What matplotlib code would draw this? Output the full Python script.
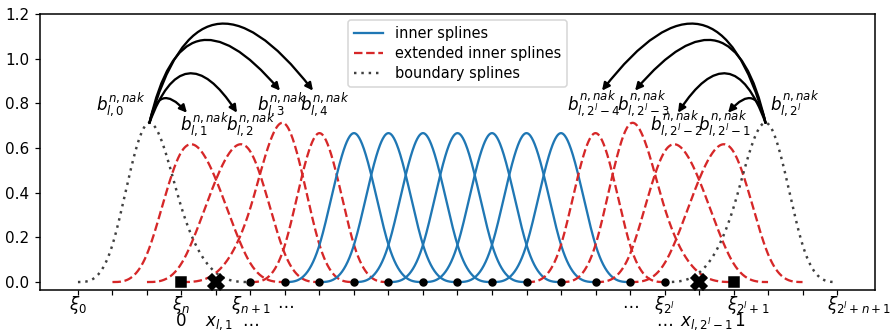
import numpy as np
import matplotlib
matplotlib.use("Agg")
import matplotlib.pyplot as plt
import matplotlib.transforms as mtransforms

# level l = 4, degree n = 3, grid width 2^-l
level = 4
degree = 3
grid_step = 1 / 2**level

# knot sequence in units of the grid step (not-a-knot: x_{l,1} and x_{l,2^l-1} removed)
knot_index = [-3, -2, -1, 0, 2, 3, 4, 5, 6, 7, 8, 9, 10, 11, 12, 13, 14, 16, 17, 18, 19]
knots = np.array(knot_index) * grid_step

# type of each of the 2^l + 1 basis splines
spline_kind = (["boundary"] + ["extended"] * 4 + ["inner"] * 7
               + ["extended"] * 4 + ["boundary"])

# points marked on the axis
interior_knots = knots[4:17]
end_points = [0.0, 1.0]
nak_points = [1 * grid_step, 15 * grid_step]

# x ticks (grid index) and the two rows of labels under them
tick_index = list(range(-3, 20))
row1_labels = {
    -3: r"$\xi_0$",
    0: r"$\xi_n$",
    2: r"$\xi_{n+1}$",
    3: r"$\cdots$",
    13: r"$\cdots$",
    14: r"$\xi_{2^l}$",
    16: r"$\xi_{2^l+1}$",
    19: r"$\xi_{2^l+n+1}$",
}
row2_labels = {
    0: "0",
    1: r"$x_{l,1}$",
    2: r"$\ldots$",
    14: r"$\ldots$",
    15: r"$x_{l,2^l-1}$",
    16: "1",
}
# small horizontal shifts of some labels (pixels)
row1_shift = {16: 15, 19: 22}
row2_shift = {1: 3, 15: 7, 16: 6}

# spline labels: index, text position (x, y)
label_names = ["0", "1", "2", "3", "4", "2^l-4", "2^l-3", "2^l-2", "2^l-1", "2^l"]
label_x = [-0.1105, 0.0417, 0.125, 0.181, 0.26, 0.747, 0.837, 0.896, 0.983, 1.111]
label_y = [0.731, 0.641, 0.641, 0.731, 0.731, 0.731, 0.731, 0.641, 0.641, 0.731]

# arrow targets from the boundary splines
arrow_left_x = [0.0099, 0.1006, 0.1784, 0.2382]
arrow_right_x = [0.9901, 0.8994, 0.8216, 0.7618]
arrow_y = [0.758, 0.758, 0.857, 0.857]


def bspline(t, k, i, x):
    # Cox-de Boor recursion
    if k == 0:
        return ((t[i] <= x) & (x < t[i + 1])).astype(float)
    left = (x - t[i]) / (t[i + k] - t[i]) * bspline(t, k - 1, i, x)
    right = (t[i + k + 1] - x) / (t[i + k + 1] - t[i + 1]) * bspline(t, k - 1, i + 1, x)
    return left + right


styles = {
    "inner": dict(color="tab:blue", ls="-", lw=1.5),
    "extended": dict(color="tab:red", ls="--", lw=1.5),
    "boundary": dict(color="#404040", ls=(0, (1, 2)), lw=1.6),
}
legend_names = {"inner": "inner splines", "extended": "extended inner splines",
                "boundary": "boundary splines"}

fig = plt.figure(figsize=(8.1, 3.0), dpi=110)
ax = fig.add_axes([40 / 891, 1 - 290 / 330, 835 / 891, 276 / 330])

peaks = {}
handles = {}
for i, kind in enumerate(spline_kind):
    xs = np.linspace(knots[i], knots[i + degree + 1], 300)
    ys = bspline(knots, degree, i, xs)
    line, = ax.plot(xs, ys, **styles[kind])
    handles.setdefault(kind, line)
    peaks[i] = (xs[np.argmax(ys)], ys.max())

ax.plot(interior_knots, np.zeros(len(interior_knots)), "ko", ms=4.5, zorder=5)
ax.plot(end_points, [0, 0], "ks", ms=6.5, zorder=5)
ax.plot(nak_points, [0, 0], "kX", ms=11, zorder=5)

for name, lx, ly in zip(label_names, label_x, label_y):
    ax.text(lx, ly, r"$b_{l,%s}^{n,nak}$" % name, ha="center", va="bottom", fontsize=11)

x0, y0 = peaks[0]
x1, y1 = peaks[len(spline_kind) - 1]
for tx, ty in zip(arrow_left_x, arrow_y):
    ax.annotate("", xy=(tx, ty), xytext=(x0, y0),
                arrowprops=dict(arrowstyle="-|>", connectionstyle="arc3,rad=-1",
                                color="k", lw=1.5, shrinkA=0, shrinkB=0))
for tx, ty in zip(arrow_right_x, arrow_y):
    ax.annotate("", xy=(tx, ty), xytext=(x1, y1),
                arrowprops=dict(arrowstyle="-|>", connectionstyle="arc3,rad=1",
                                color="k", lw=1.5, shrinkA=0, shrinkB=0))

ax.set_xticks(np.array(tick_index) * grid_step)
ax.set_xticklabels([])
ax.tick_params(axis="x", length=3)
xtrans = ax.get_xaxis_transform()
for t, s in row1_labels.items():
    tr = mtransforms.offset_copy(xtrans, fig=fig, x=row1_shift.get(t, 0), y=0, units="dots")
    ax.text(t * grid_step, -20 / 276, s, transform=tr, ha="center", va="baseline",
            fontsize=11, clip_on=False)
for t, s in row2_labels.items():
    tr = mtransforms.offset_copy(xtrans, fig=fig, x=row2_shift.get(t, 0), y=0, units="dots")
    ax.text(t * grid_step, -36 / 276, s, transform=tr, ha="center", va="baseline",
            fontsize=11, clip_on=False)

ax.set_ylim(top=1.2)
for s in ax.spines.values():
    s.set_linewidth(1.0)
order = ["inner", "extended", "boundary"]
ax.legend([handles[k] for k in order], [legend_names[k] for k in order],
          loc="upper center", fontsize=9.5, borderaxespad=0.4, labelspacing=0.35)

fig.savefig("out.png", dpi=110)
